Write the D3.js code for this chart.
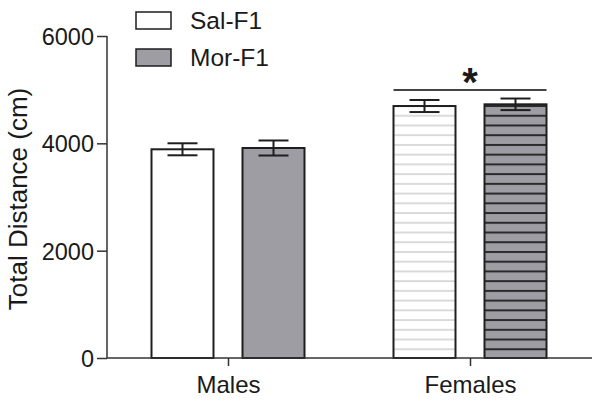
<!DOCTYPE html>
<html><head><meta charset="utf-8">
<script src="https://cdn.jsdelivr.net/npm/d3@7"></script>
<style>body{margin:0;background:#fff}svg{display:block}text{font-family:"Liberation Sans",Arial,sans-serif;fill:#1a1a1a}</style>
</head><body><svg id="c" width="602" height="402"></svg>
<script>
const categories = ["Males", "Females"];
const groups = ["Sal-F1", "Mor-F1"];
const salMeans = [3889, 4695];
const morMeans = [3913, 4727];
const salSem = [112, 112];
const morSem = [140, 108];
const yTicks = [0, 2000, 4000, 6000];
const yLabel = "Total Distance (cm)";

const svg = d3.select("#c");
const x = d3.scalePoint().domain(categories).range([107, 591]).padding(0.5);
const sub = d3.scaleBand().domain(groups).range([-76.5, 76.5]).paddingInner(0.3187);
const y = d3.scaleLinear().domain([0, 6000]).range([358, 36]);

const defs = svg.append("defs");
const p1 = defs.append("pattern").attr("id","stripeW").attr("patternUnits","userSpaceOnUse")
  .attr("width",10).attr("height",9.73).attr("y",358);
p1.append("rect").attr("width",10).attr("height",9.73).attr("fill","#fff");
p1.append("line").attr("x1",0).attr("x2",10).attr("y1",1).attr("y2",1).attr("stroke","#c8c8c8").attr("stroke-width",1.3);
const p2 = defs.append("pattern").attr("id","stripeG").attr("patternUnits","userSpaceOnUse")
  .attr("width",10).attr("height",9.73).attr("y",358);
p2.append("rect").attr("width",10).attr("height",9.73).attr("fill","#9d9da3");
p2.append("line").attr("x1",0).attr("x2",10).attr("y1",1).attr("y2",1).attr("stroke","#2a2a2a").attr("stroke-width",2);

const rows = [];
categories.forEach((c,i)=>{
  rows.push({cat:c, g:groups[0], v:salMeans[i], e:salSem[i], i});
  rows.push({cat:c, g:groups[1], v:morMeans[i], e:morSem[i], i});
});
function fillOf(d){
  if (d.i === 1) return d.g === groups[0] ? "url(#stripeW)" : "url(#stripeG)";
  return d.g === groups[0] ? "#fff" : "#9d9da3";
}
const bars = svg.append("g");
bars.selectAll("rect").data(rows).join("rect")
  .attr("x", d => x(d.cat) + sub(d.g))
  .attr("width", sub.bandwidth())
  .attr("y", d => y(d.v))
  .attr("height", d => y(0) - y(d.v))
  .attr("fill", fillOf)
  .attr("stroke", "#1e1e1e").attr("stroke-width", 2);

const eb = svg.append("g").attr("stroke","#1e1e1e").attr("stroke-width",2);
rows.forEach(d=>{
  const cx = x(d.cat) + sub(d.g) + sub.bandwidth()/2;
  eb.append("line").attr("x1",cx).attr("x2",cx).attr("y1",y(d.v+d.e)).attr("y2",y(d.v-d.e));
  eb.append("line").attr("x1",cx-15).attr("x2",cx+15).attr("y1",y(d.v+d.e)).attr("y2",y(d.v+d.e));
  eb.append("line").attr("x1",cx-15).attr("x2",cx+15).attr("y1",y(d.v-d.e)).attr("y2",y(d.v-d.e));
});

// axes
const ya = svg.append("g").attr("transform","translate(107,0)")
  .call(d3.axisLeft(y).tickValues(yTicks).tickSize(10).tickPadding(3).tickFormat(d3.format("d")));
ya.select(".domain").attr("stroke","#333").attr("stroke-width",1.5).attr("d","M0,"+y(6000)+"V"+y(0));
ya.selectAll(".tick line").attr("stroke","#333").attr("stroke-width",1.5);
ya.selectAll(".tick text").attr("font-size",23.5).attr("fill","#1a1a1a").attr("dy","0.36em");

const xa = svg.append("g").attr("transform","translate(0,358)")
  .call(d3.axisBottom(x).tickSize(8).tickPadding(10));
xa.select(".domain").attr("stroke","#333").attr("stroke-width",1.5).attr("d","M107,0H592");
xa.selectAll(".tick line").attr("stroke","#333").attr("stroke-width",1.5);
xa.selectAll(".tick text").attr("font-size",24).attr("fill","#1a1a1a").attr("dy","0.71em");

svg.append("text").attr("transform","translate(27,199) rotate(-90)")
  .attr("text-anchor","middle").attr("font-size",26).text(yLabel);

// significance
const fx0 = x(categories[1]) + sub(groups[0]);
const fx1 = x(categories[1]) + sub(groups[1]) + sub.bandwidth();
svg.append("line").attr("x1",fx0).attr("x2",fx1).attr("y1",90).attr("y2",90)
  .attr("stroke","#444").attr("stroke-width",2);
svg.append("text").attr("x",(fx0+fx1)/2).attr("y",96).attr("text-anchor","middle")
  .attr("font-size",40).attr("font-weight","bold").text("*");

// legend
const leg = svg.append("g");
groups.forEach((g,i)=>{
  const yy = 12 + i*37;
  leg.append("rect").attr("x",136).attr("y",yy).attr("width",35).attr("height",17)
    .attr("fill", i===0 ? "#fff" : "#9d9da3").attr("stroke","#1e1e1e").attr("stroke-width",1.5);
  leg.append("text").attr("x",190).attr("y",yy+17).attr("font-size",24.5).text(g);
});
</script></body></html>
